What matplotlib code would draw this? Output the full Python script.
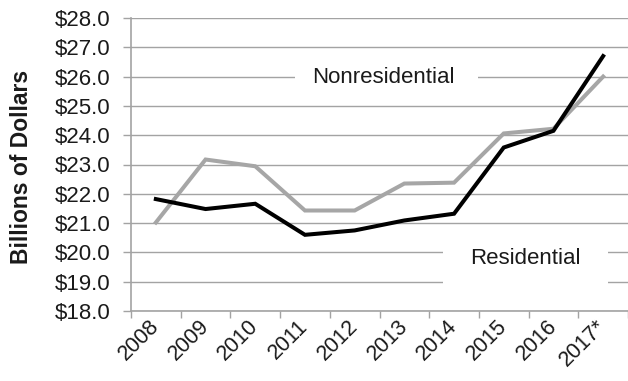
import matplotlib
matplotlib.use("Agg")
import matplotlib.pyplot as plt
from matplotlib.patches import Rectangle
import numpy as np

years = ["2008", "2009", "2010", "2011", "2012", "2013", "2014", "2015", "2016", "2017*"]
residential = [21.82, 21.48, 21.66, 20.60, 20.75, 21.09, 21.32, 23.58, 24.15, 26.70]
nonresidential = [21.02, 23.17, 22.94, 21.43, 21.43, 22.35, 22.38, 24.06, 24.22, 26.00]
y_ticks = [18, 19, 20, 21, 22, 23, 24, 25, 26, 27, 28]

plt.rcParams["font.family"] = ["Liberation Sans", "DejaVu Sans"]

fig = plt.figure(figsize=(6.28, 3.81), dpi=100)
ax = fig.add_axes([131 / 628, 70 / 381, 497 / 628, 293 / 381])

grid_color = "#a3a3a3"
text_color = "#1a1a1a"
x = np.arange(len(years)) + 0.5

ax.set_xlim(0, len(years))
ax.set_ylim(y_ticks[0], y_ticks[-1])

# horizontal gridlines
ax.set_yticks(y_ticks)
ax.set_yticklabels([f"${v:.1f}" for v in y_ticks])
ax.yaxis.grid(True, color=grid_color, linewidth=1.0, zorder=0)
ax.set_axisbelow(True)

# category boundaries carry the tick marks, centres carry the labels
ax.set_xticks(np.arange(len(years) + 1))
ax.set_xticklabels([])
ax.set_xticks(x, minor=True)
ax.set_xticklabels(years, minor=True, rotation=45, ha="right", va="center",
                   rotation_mode="anchor", fontsize=15.5, color=text_color)
ax.tick_params(axis="x", which="minor", length=0, pad=9)
ax.tick_params(axis="x", which="major", length=5, width=1.0, color=grid_color)
ax.tick_params(axis="y", length=6, width=1.0, color=grid_color, pad=9,
               labelsize=16, labelcolor=text_color)

for side in ("top", "right"):
    ax.spines[side].set_visible(False)
for side in ("left", "bottom"):
    ax.spines[side].set_color(grid_color)
    ax.spines[side].set_linewidth(1.2)

# white label panels over the gridlines
ax.add_patch(Rectangle((3.3, 25.6), 3.68, 0.85, facecolor="white",
                       edgecolor="none", zorder=1))
ax.add_patch(Rectangle((6.28, 18.85), 3.32, 1.6, facecolor="white",
                       edgecolor="none", zorder=1))

ax.plot(x, nonresidential, color="#a6a6a6", linewidth=2.9, zorder=3,
        solid_joinstyle="miter")
ax.plot(x, residential, color="black", linewidth=2.9, zorder=4,
        solid_joinstyle="miter")

ax.text(5.07, 25.97, "Nonresidential", fontsize=16, ha="center", va="center",
        color=text_color, zorder=2)
ax.text(7.93, 19.8, "Residential", fontsize=16, ha="center", va="center",
        color=text_color, zorder=2)

fig.text(22 / 628, 1 - 167 / 381, "Billions of Dollars", rotation=90,
         fontsize=16.5, fontweight="bold", ha="center", va="center",
         color=text_color)

fig.savefig("out.png", dpi=100)
